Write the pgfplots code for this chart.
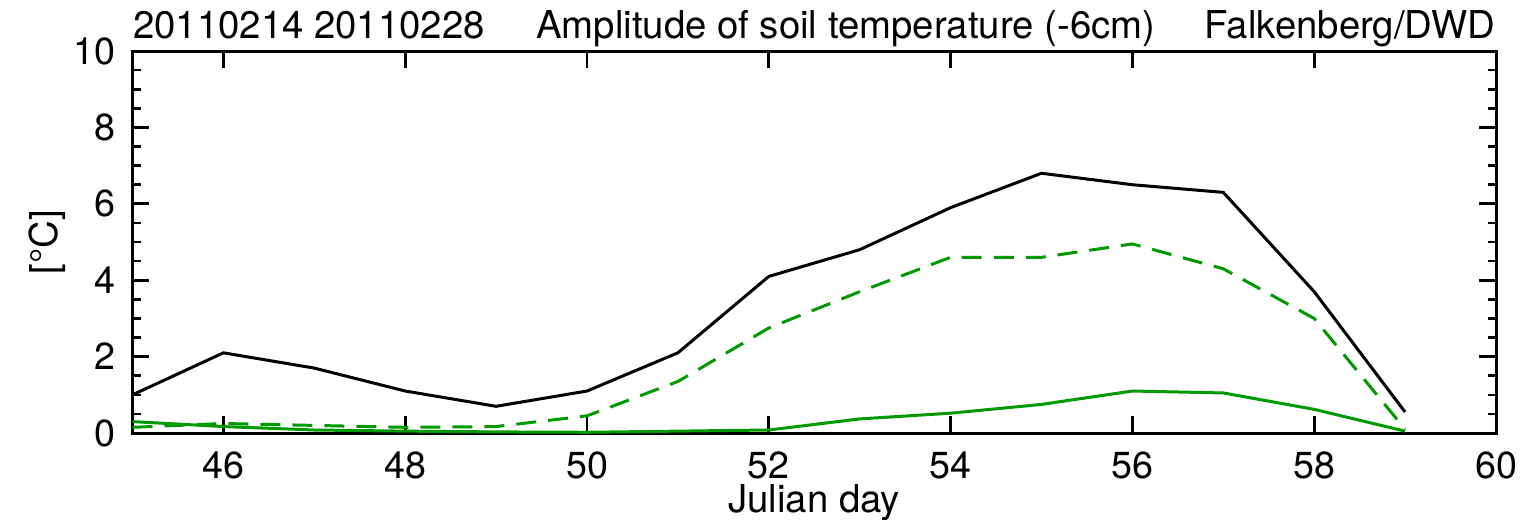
\documentclass[border=0pt]{standalone}
\usepackage{fontspec}
\setmainfont{TeX Gyre Heros}
\usepackage{pgfplots}
\pgfplotsset{compat=1.18}
\definecolor{dgreen}{RGB}{0,153,0}
\begin{document}
\fontsize{11.5}{13.5}\selectfont
\begin{tikzpicture}
\begin{axis}[
  scale only axis,
  width=409pt, height=114.6pt,
  xmin=45, xmax=60, ymin=0, ymax=10,
  xtick={46,48,...,60},
  extra x ticks={45},
  extra x tick labels={},
  ytick={0,2,...,10},
  minor y tick num=3,
  tick align=inside,
  major tick length=5pt,
  minor tick length=2.4pt,
  axis line style={line width=0.9pt},
  every tick/.style={black, line width=0.8pt},
  tick label style={font=\fontsize{11.3}{13.5}\selectfont},
  /pgf/number format/assume math mode=true,
  xticklabel style={yshift=-1.5pt},
  yticklabel style={xshift=-1pt},
  xlabel={Julian day},
  ylabel={[°C]},
  label style={font=\fontsize{11.5}{13.5}\selectfont},
  xlabel style={at={(axis description cs:0.5,0)}, anchor=north, yshift=-11.5pt},
  ylabel style={at={(axis description cs:0,0.5)}, anchor=south, xshift=0pt, yshift=16pt},
  clip=false,
]
\addplot[black, line width=0.9pt] coordinates {
(45,1.0) (46,2.1) (47,1.7) (48,1.1) (49,0.7) (50,1.1) (51,2.1) (52,4.1) (53,4.8) (54,5.9) (55,6.8) (56,6.5) (57,6.3) (58,3.7) (59,0.55)};
\addplot[dgreen, line width=0.9pt, dash pattern=on 6pt off 3.6pt] coordinates {
(45,0.15) (46,0.25) (47,0.2) (48,0.15) (49,0.17) (50,0.45) (51,1.35) (52,2.75) (53,3.7) (54,4.6) (55,4.6) (56,4.95) (57,4.3) (58,3.0) (59,0.1)};
\addplot[dgreen, line width=0.9pt] coordinates {
(45,0.3) (46,0.17) (47,0.08) (48,0.05) (49,0.03) (50,0.02) (51,0.05) (52,0.08) (53,0.37) (54,0.52) (55,0.75) (56,1.1) (57,1.05) (58,0.62) (59,0.05)};
\node[anchor=base west, inner sep=0pt] at (rel axis cs:0,1.033) {20110214 20110228};
\node[anchor=base, inner sep=0pt] at (rel axis cs:0.523,1.033) {Amplitude of soil temperature (-6cm)};
\node[anchor=base east, inner sep=0pt] at (rel axis cs:1,1.033) {Falkenberg/DWD};
\coordinate (sw) at (rel axis cs:0,0);
\coordinate (ne) at (rel axis cs:1,1);
\end{axis}
\pgfresetboundingbox
\path[use as bounding box] ([xshift=-39.75pt,yshift=-25.8pt]sw) rectangle ([xshift=9.3pt,yshift=15.3pt]ne);
\end{tikzpicture}
\end{document}
